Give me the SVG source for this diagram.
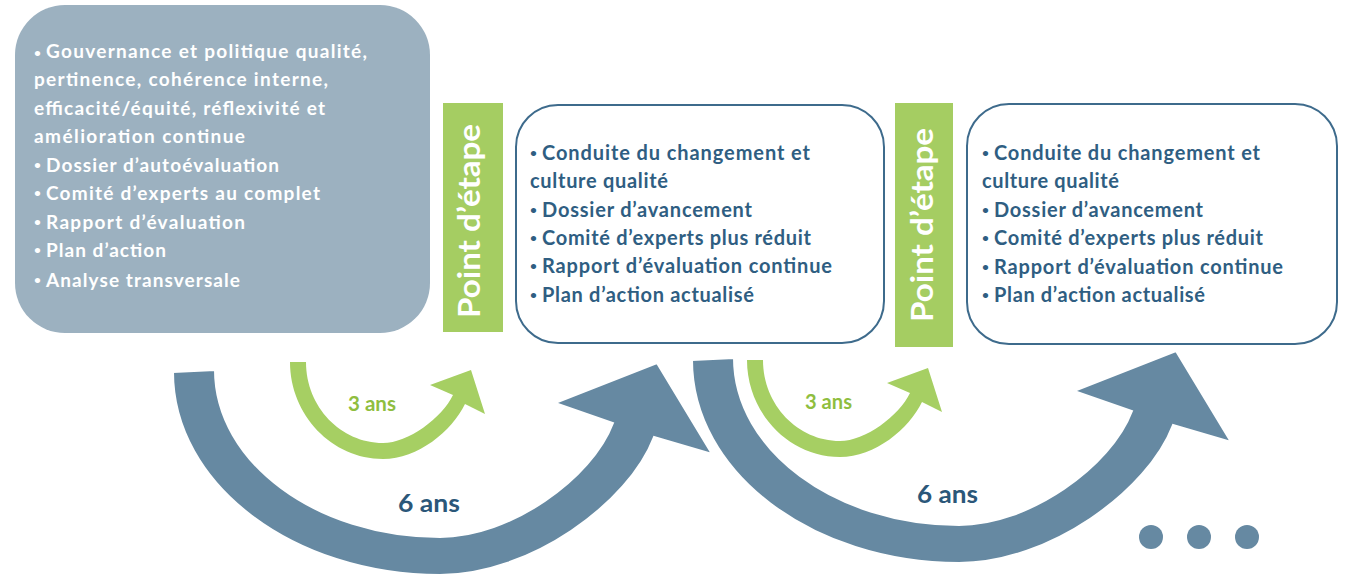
<svg xmlns="http://www.w3.org/2000/svg" xmlns:xlink="http://www.w3.org/1999/xlink" width="1346" height="585" viewBox="0 0 1346 585">
  <style>
    text { font-family: Lato, "Liberation Sans", sans-serif; font-weight: bold; }
    .w { fill: #ffffff; font-size: 19px; }
    .b { fill: #2F5E82; font-size: 20px; }
    .bul { font-size: 12px; }
    .step { fill: #ffffff; font-size: 30px; }
    .box { fill: #ffffff; stroke: #3E6B8C; stroke-width: 2; }
    .bar { fill: #A5CD62; }
    .big { fill: #6689A2; stroke: #ffffff; stroke-width: 2; }
    .green { fill: #A6CF63; }
    .l3 { fill: #8FBE3F; font-size: 20px; }
    .l6 { fill: #2B5779; font-size: 25px; }
    .dot { fill: #6689A2; }
  </style>
  <defs>
    <path id="bigArrow" d="M173,372 C173,484 293,575 440,575 C530,575 629,503 654,437 L712,454 L657,363 L555,403 L613,423 C592,479 510,537 440,537 C316,537 215,462 215,370 Z"/>
    <path id="greenArrow" d="M747,360 C747,413 789,457 840,457 C875,457 909,429 922,402 L942,412 L928,368 L887,383 L910,393 C899,416 865,441 840,441 C798,441 763,405 763,360 Z"/>
  </defs>

  <g id="connectors">
    <use xlink:href="#bigArrow" class="big"/>
    <use xlink:href="#bigArrow" class="big" transform="translate(519,-12)"/>
    <use xlink:href="#greenArrow" class="green" transform="translate(-457,2)"/>
    <use xlink:href="#greenArrow" class="green"/>
    <text class="l3" x="348" y="411" textLength="48" lengthAdjust="spacingAndGlyphs">3 ans</text>
    <text class="l3" x="805" y="409" textLength="47" lengthAdjust="spacingAndGlyphs">3 ans</text>
    <text class="l6" x="398" y="512" textLength="62" lengthAdjust="spacingAndGlyphs">6 ans</text>
    <text class="l6" x="917" y="503" textLength="61" lengthAdjust="spacingAndGlyphs">6 ans</text>
  </g>

  <g id="box1">
    <rect x="15" y="5" width="415" height="328" rx="50" ry="50" fill="#9CB1C0"/>
    <text class="w bul" x="34" y="57">•</text>
    <text class="w" x="46" y="58" textLength="321" lengthAdjust="spacing">Gouvernance et politique qualité,</text>
    <text class="w" x="34" y="86" textLength="294" lengthAdjust="spacing">pertinence, cohérence interne,</text>
    <text class="w" x="34" y="115" textLength="291" lengthAdjust="spacing">efficacité/équité, réflexivité et</text>
    <text class="w" x="34" y="143" textLength="211" lengthAdjust="spacing">amélioration continue</text>
    <text class="w bul" x="34" y="169">•</text>
    <text class="w" x="46" y="172" textLength="233" lengthAdjust="spacing">Dossier d’autoévaluation</text>
    <text class="w bul" x="34" y="197">•</text>
    <text class="w" x="46" y="200" textLength="274" lengthAdjust="spacing">Comité d’experts au complet</text>
    <text class="w bul" x="34" y="226">•</text>
    <text class="w" x="46" y="229" textLength="199" lengthAdjust="spacing">Rapport d’évaluation</text>
    <text class="w bul" x="34" y="254">•</text>
    <text class="w" x="46" y="257" textLength="120" lengthAdjust="spacing">Plan d’action</text>
    <text class="w bul" x="34" y="284">•</text>
    <text class="w" x="46" y="287" textLength="194" lengthAdjust="spacing">Analyse transversale</text>
  </g>

  <g id="milestone1">
    <rect class="bar" x="443" y="103" width="60" height="229"/>
    <text class="step" transform="translate(480,318) rotate(-90)" textLength="194" lengthAdjust="spacingAndGlyphs">Point d’étape</text>
  </g>

  <g id="box2">
    <rect class="box" x="516" y="105" width="368" height="238" rx="42" ry="42"/>
    <text class="b bul" x="530" y="157">•</text>
    <text class="b" x="542" y="160" textLength="268" lengthAdjust="spacing">Conduite du changement et</text>
    <text class="b" x="530" y="188" textLength="138" lengthAdjust="spacing">culture qualité</text>
    <text class="b bul" x="530" y="214">•</text>
    <text class="b" x="542" y="217" textLength="210" lengthAdjust="spacing">Dossier d’avancement</text>
    <text class="b bul" x="530" y="242">•</text>
    <text class="b" x="542" y="245" textLength="269" lengthAdjust="spacing">Comité d’experts plus réduit</text>
    <text class="b bul" x="530" y="270">•</text>
    <text class="b" x="542" y="273" textLength="290" lengthAdjust="spacing">Rapport d’évaluation continue</text>
    <text class="b bul" x="530" y="299">•</text>
    <text class="b" x="542" y="302" textLength="212" lengthAdjust="spacing">Plan d’action actualisé</text>
  </g>

  <g id="milestone2">
    <rect class="bar" x="895" y="103" width="58" height="244"/>
    <text class="step" transform="translate(933,322) rotate(-90)" textLength="194" lengthAdjust="spacingAndGlyphs">Point d’étape</text>
  </g>

  <g id="box3">
    <rect class="box" x="967" y="104" width="370" height="240" rx="42" ry="42"/>
    <text class="b bul" x="982" y="157">•</text>
    <text class="b" x="994" y="160" textLength="266" lengthAdjust="spacing">Conduite du changement et</text>
    <text class="b" x="982" y="188" textLength="137" lengthAdjust="spacing">culture qualité</text>
    <text class="b bul" x="982" y="214">•</text>
    <text class="b" x="994" y="217" textLength="209" lengthAdjust="spacing">Dossier d’avancement</text>
    <text class="b bul" x="982" y="242">•</text>
    <text class="b" x="994" y="245" textLength="269" lengthAdjust="spacing">Comité d’experts plus réduit</text>
    <text class="b bul" x="982" y="271">•</text>
    <text class="b" x="994" y="274" textLength="289" lengthAdjust="spacing">Rapport d’évaluation continue</text>
    <text class="b bul" x="982" y="299">•</text>
    <text class="b" x="994" y="302" textLength="211" lengthAdjust="spacing">Plan d’action actualisé</text>
  </g>

  <g id="continuation">
    <circle class="dot" cx="1151" cy="537" r="12"/>
    <circle class="dot" cx="1199" cy="537" r="12"/>
    <circle class="dot" cx="1247" cy="537" r="12"/>
  </g>
</svg>
